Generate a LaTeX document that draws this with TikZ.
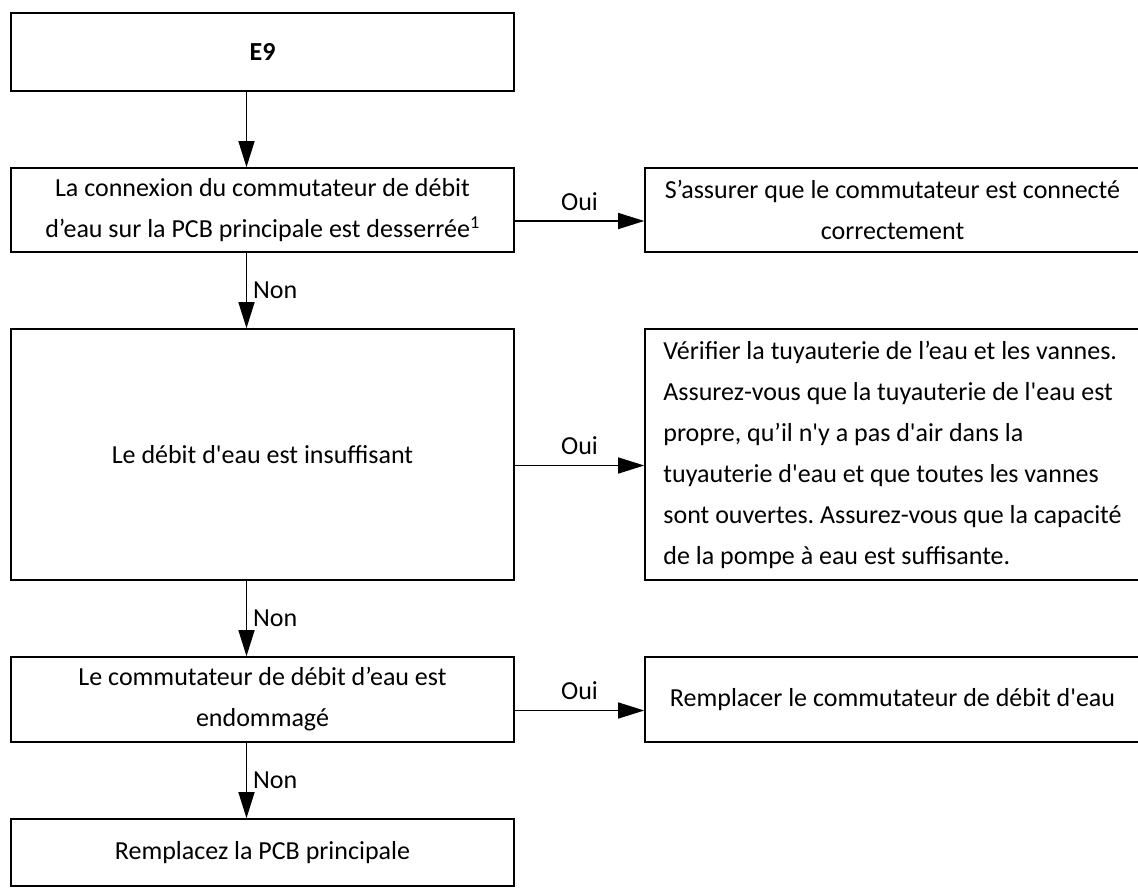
\documentclass[tikz,border=0pt]{standalone}
\usepackage{fontspec}
\usepackage{tikz}
\usetikzlibrary{arrows.meta}

\newfontfamily\flowfont{Carlito}

\begin{document}
\begin{tikzpicture}
	[x=1pt, y=-1pt,
	box/.style ={rectangle, draw, line width=1.6pt, inner sep=0pt, align=center,
		font=\flowfont\fontsize{26}{41}\selectfont\frenchspacing},
	lbox/.style={box, minimum width=503pt},
	rbox/.style={box, minimum width=495pt},
	link/.style={line width=1.3pt, -{Triangle[length=26pt,width=16pt]}},
	tag/.style ={font=\flowfont\fontsize{26}{30}\selectfont, inner sep=2pt}]
	\useasboundingbox (0,0) rectangle (1138,888);
	% left column
	\node[lbox, minimum height=78pt] (e9) at (262.5,52) {\bfseries E9};
	\node[lbox, minimum height=84pt] (conn) at (262.5,210)
		{La connexion du commutateur de débit\\d’eau sur la PCB principale est desserrée\textsuperscript{1}};
	\node[lbox, minimum height=251pt] (flow) at (262.5,454.5) {Le débit d'eau est insuffisant};
	\node[lbox, minimum height=85pt] (sw) at (262.5,699.5)
		{Le commutateur de débit d’eau est\\endommagé};
	\node[lbox, minimum height=67pt] (pcb) at (262.5,852.5) {Remplacez la PCB principale};
	% right column
	\node[rbox, minimum height=84pt] (fixconn) at (892.5,210)
		{S’assurer que le commutateur est connecté\\correctement};
	\node[rbox, minimum height=251pt, align=left] (fixflow) at (892.5,454.5)
		{Vérifier la tuyauterie de l’eau et les vannes.\\
		Assurez-vous que la tuyauterie de l'eau est\\
		propre, qu’il n'y a pas d'air dans la\\
		tuyauterie d'eau et que toutes les vannes\\
		sont ouvertes. Assurez-vous que la capacité\\
		de la pompe à eau est suffisante.};
	\node[rbox, minimum height=85pt] (fixsw) at (892.5,699.5) {Remplacer le commutateur de débit d'eau};
	% connectors
	\draw[link] ([xshift=-16pt]e9.south) -- ([xshift=-16pt]conn.north);
	\draw[link] ([xshift=-16pt]conn.south) -- node[tag, right=4pt] {Non} ([xshift=-16pt]flow.north);
	\draw[link] ([xshift=-16pt]flow.south) -- node[tag, right=4pt] {Non} ([xshift=-16pt]sw.north);
	\draw[link] ([xshift=-16pt]sw.south) -- node[tag, right=4pt] {Non} ([xshift=-16pt]pcb.north);
	\draw[link] ([yshift=-11pt]conn.east) -- node[tag, above=8pt] {Oui} ([yshift=-11pt]fixconn.west);
	\draw[link] ([yshift=-11pt]flow.east) -- node[tag, above=8pt] {Oui} ([yshift=-11pt]fixflow.west);
	\draw[link] ([yshift=-11pt]sw.east) -- node[tag, above=8pt] {Oui} ([yshift=-11pt]fixsw.west);
\end{tikzpicture}
\end{document}
